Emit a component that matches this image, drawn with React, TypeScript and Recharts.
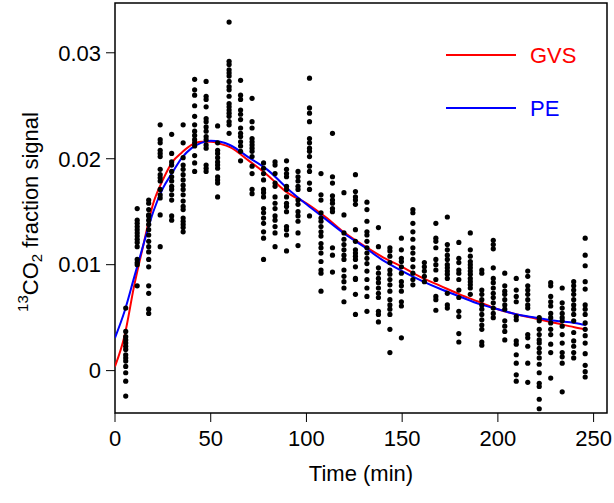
import {
  ComposedChart,
  Legend,
  Line,
  ReferenceArea,
  Scatter,
  XAxis,
  YAxis,
} from "recharts";

// sampling times (min) of the breath measurements
const sampleTimes = [
  5.6, 11.6, 17.6, 23.6, 29.6, 35.6, 41.6, 47.6, 53.6, 59.6, 65.6, 71.6, 77.6,
  83.6, 89.6, 95.6, 101.6, 107.6, 113.6, 119.6, 125.6, 131.6, 137.6, 143.6,
  149.6, 155.6, 161.6, 167.6, 173.6, 179.6, 185.6, 191.6, 197.6, 203.6, 209.6,
  215.6, 221.6, 227.6, 233.6, 239.6, 245.6,
];

// observed 13CO2 fraction signals, one list per sampling time
const observedSignals: number[][] = [
  [0.0059, 0.0037, 0.0032, 0.0029, 0.0026, 0.0023, 0.002, 0.0015, 0.0012, 0.0009, 0.0004, -0.0002, -0.001, -0.0024],
  [0.0153, 0.0142, 0.0139, 0.0136, 0.0133, 0.013, 0.0127, 0.0124, 0.0121, 0.0117, 0.0105, 0.0102, 0.01, 0.008],
  [0.0161, 0.0158, 0.0152, 0.0147, 0.0146, 0.0142, 0.0138, 0.0133, 0.0128, 0.0122, 0.0117, 0.0112, 0.0105, 0.0098, 0.008, 0.0073, 0.0058, 0.0054],
  [0.0232, 0.0218, 0.0215, 0.0208, 0.0205, 0.0202, 0.019, 0.0185, 0.0182, 0.0179, 0.0171, 0.0166, 0.0163, 0.0147, 0.0117],
  [0.0223, 0.0205, 0.0197, 0.0194, 0.0188, 0.0183, 0.0179, 0.0174, 0.0171, 0.0166, 0.0161, 0.0146, 0.0142],
  [0.0232, 0.0215, 0.0201, 0.0194, 0.019, 0.0185, 0.018, 0.0175, 0.0171, 0.0166, 0.016, 0.0155, 0.0152, 0.0144, 0.0141, 0.0138, 0.0135, 0.0131],
  [0.0275, 0.0265, 0.026, 0.025, 0.024, 0.0232, 0.0226, 0.0222, 0.0218, 0.0215, 0.0212, 0.0203, 0.0196, 0.0188],
  [0.0273, 0.0259, 0.0256, 0.0249, 0.0238, 0.0235, 0.023, 0.0226, 0.0221, 0.0218, 0.0213, 0.021, 0.0194, 0.0191, 0.0188],
  [0.0231, 0.0215, 0.0208, 0.0205, 0.0201, 0.0197, 0.0194, 0.0191, 0.0183, 0.018, 0.0177, 0.0164],
  [0.0329, 0.0292, 0.0289, 0.0284, 0.0281, 0.0278, 0.0273, 0.0268, 0.0265, 0.0259, 0.0252, 0.0249, 0.0246, 0.0243, 0.024, 0.0235, 0.0232, 0.0224],
  [0.0274, 0.026, 0.0256, 0.0246, 0.0242, 0.0237, 0.0229, 0.0224, 0.0221, 0.0216, 0.0212, 0.0207, 0.0198],
  [0.0257, 0.0235, 0.0229, 0.0219, 0.0216, 0.0213, 0.021, 0.0207, 0.0202, 0.0193, 0.0186, 0.0171, 0.0167],
  [0.0196, 0.0191, 0.0186, 0.018, 0.0171, 0.0168, 0.0164, 0.0153, 0.0149, 0.0144, 0.0139, 0.0131, 0.0125, 0.0105],
  [0.0197, 0.0194, 0.0186, 0.0177, 0.0174, 0.0164, 0.0158, 0.0153, 0.0146, 0.0142, 0.0136, 0.013, 0.0117],
  [0.0198, 0.019, 0.0186, 0.0183, 0.0174, 0.0171, 0.0164, 0.0158, 0.0155, 0.015, 0.0136, 0.0133, 0.0128, 0.0113],
  [0.0188, 0.0183, 0.0179, 0.0174, 0.0171, 0.0161, 0.0157, 0.015, 0.0146, 0.0141, 0.013, 0.0118],
  [0.0276, 0.0248, 0.0243, 0.0235, 0.0219, 0.0215, 0.021, 0.0207, 0.0202, 0.0193, 0.0188, 0.0177, 0.0171, 0.0146],
  [0.0186, 0.0166, 0.0161, 0.0149, 0.0144, 0.0141, 0.0136, 0.0131, 0.0127, 0.012, 0.0116, 0.0111, 0.0103, 0.0095, 0.0092, 0.0075],
  [0.0224, 0.0183, 0.0177, 0.0165, 0.0161, 0.0158, 0.0153, 0.015, 0.0116, 0.0109, 0.0093],
  [0.0168, 0.0147, 0.013, 0.0124, 0.0119, 0.0114, 0.0109, 0.0105, 0.0095, 0.0089, 0.0084, 0.0078, 0.0065],
  [0.0185, 0.0169, 0.0164, 0.0161, 0.0157, 0.0133, 0.0122, 0.0114, 0.0111, 0.0108, 0.0105, 0.0098, 0.0087, 0.0086, 0.0072, 0.0053],
  [0.0159, 0.0152, 0.0141, 0.0131, 0.0128, 0.0122, 0.0116, 0.0111, 0.0106, 0.0101, 0.0094, 0.0086, 0.0078, 0.007, 0.0056],
  [0.0135, 0.0117, 0.0097, 0.0092, 0.0087, 0.0083, 0.0078, 0.0073, 0.0069, 0.0056, 0.0053, 0.0046],
  [0.0116, 0.0113, 0.0108, 0.0102, 0.0095, 0.0091, 0.0086, 0.0081, 0.0075, 0.0067, 0.0062, 0.0058, 0.0053, 0.0039, 0.0017],
  [0.0125, 0.0114, 0.0106, 0.0103, 0.0098, 0.0092, 0.0084, 0.008, 0.0075, 0.0065, 0.0061, 0.0031],
  [0.0152, 0.0149, 0.0139, 0.0131, 0.0124, 0.0116, 0.0111, 0.0105, 0.0098, 0.0092, 0.0086, 0.0081],
  [0.0102, 0.0098, 0.0094, 0.0089, 0.0084],
  [0.0139, 0.0125, 0.0122, 0.0116, 0.0105, 0.01, 0.0095, 0.0086, 0.007, 0.0067, 0.0057],
  [0.0145, 0.0119, 0.0114, 0.0109, 0.0105, 0.01, 0.0097, 0.0094, 0.0091, 0.0087, 0.0073, 0.0062, 0.0059],
  [0.0121, 0.0106, 0.0102, 0.0095, 0.0092, 0.0086, 0.0076, 0.0069, 0.0056, 0.0051, 0.0035, 0.0027],
  [0.013, 0.0114, 0.0108, 0.0103, 0.01, 0.0097, 0.0094, 0.0091, 0.0087, 0.0084, 0.0081, 0.0078, 0.0072],
  [0.0095, 0.0092, 0.0076, 0.0072, 0.0067, 0.0062, 0.0058, 0.0053, 0.0048, 0.0043, 0.0039, 0.0027, 0.0024],
  [0.0123, 0.0119, 0.0115, 0.0097, 0.0087, 0.0083, 0.0078, 0.0073, 0.0069, 0.0064, 0.0059, 0.0054, 0.005],
  [0.0092, 0.008, 0.0075, 0.0072, 0.0067, 0.0062, 0.0058, 0.0047, 0.0042, 0.0037, 0.0029],
  [0.0087, 0.0076, 0.007, 0.0065, 0.0051, 0.0048, 0.0028, 0.0025, 0.0015, 0.0007, -0.0004, -0.001],
  [0.0094, 0.0089, 0.008, 0.0076, 0.0072, 0.0067, 0.0062, 0.0059, 0.0034, 0.0031, 0.0023, 0.0007, -0.0011],
  [0.005, 0.0047, 0.0039, 0.0034, 0.0029, 0.0026, 0.0021, 0.0017, 0.0012, 0.0006, -0.0002, -0.0012, -0.0015, -0.0027, -0.0036],
  [0.0083, 0.008, 0.007, 0.0065, 0.0061, 0.0054, 0.005, 0.0045, 0.0039, 0.0034, 0.0025, 0.0017, -0.0007],
  [0.0078, 0.0064, 0.0059, 0.0054, 0.005, 0.0047, 0.0042, 0.0034, 0.0026, 0.0017, 0.0013, 0.0007, -0.002],
  [0.0084, 0.008, 0.0076, 0.0072, 0.0067, 0.0062, 0.0058, 0.0053, 0.0047, 0.0036, 0.0028, 0.0023, 0.0017, 0.0012],
  [0.0125, 0.0109, 0.0099, 0.0084, 0.0077, 0.0062, 0.0058, 0.0053, 0.0045, 0.0039, 0.0033, 0.0026, 0.0016, 0.0005, -0.0001, -0.0006],
];

// fitted curves
const curveTimes = [
  0, 5, 10, 15, 20, 25, 30, 35, 40, 45, 50, 55, 60, 70, 80, 90, 100, 110, 120,
  130, 140, 150, 160, 170, 180, 190, 200, 210, 220, 230, 240, 246,
];
const gvsFit = [
  0.0004, 0.0033, 0.008, 0.012, 0.0158, 0.018, 0.0197, 0.0206, 0.0213, 0.0216,
  0.0216, 0.0214, 0.0211, 0.0198, 0.0184, 0.0168, 0.0158, 0.0145, 0.013,
  0.0118, 0.0107, 0.0098, 0.0088, 0.008, 0.0072, 0.0065, 0.0058, 0.0053,
  0.0049, 0.0045, 0.0041, 0.0039,
];
const peFit = [
  0.0031, 0.0056, 0.0088, 0.012, 0.015, 0.0172, 0.0187, 0.0201, 0.021, 0.0215,
  0.0217, 0.0216, 0.0213, 0.0201, 0.0189, 0.0172, 0.0157, 0.0143, 0.0129,
  0.0117, 0.0104, 0.0094, 0.0085, 0.0077, 0.007, 0.0063, 0.0058, 0.0053, 0.005,
  0.0047, 0.0045, 0.0043,
];

const xTicks = [0, 50, 100, 150, 200, 250];
const yTicks = [0, 0.01, 0.02, 0.03];
const xDomain: [number, number] = [0, 257];
const yDomain: [number, number] = [-0.004, 0.0347];

const points = sampleTimes.flatMap((t, i) =>
  observedSignals[i].map((v) => ({ t, v })),
);
const gvsData = curveTimes.map((t, i) => ({ t, v: gvsFit[i] }));
const peData = curveTimes.map((t, i) => ({ t, v: peFit[i] }));

const font = "'Liberation Sans', Arial, Helvetica, sans-serif";
const tickStyle = { fill: "#000", fontSize: 22, fontFamily: font };

function Dot(props: any) {
  return <circle cx={props.cx} cy={props.cy} r={2.6} fill="#000" />;
}

function YTitle() {
  return (
    <text
      transform="translate(30, 212) rotate(-90)"
      textAnchor="middle"
      dominantBaseline="central"
      fontFamily={font}
      fontSize={22}
      fill="#000"
    >
      <tspan fontSize={15} dy={-8}>
        13
      </tspan>
      <tspan dy={8}>CO</tspan>
      <tspan fontSize={15} dy={6}>
        2
      </tspan>
      <tspan dy={-6}> fraction signal</tspan>
    </text>
  );
}

function FitLegend() {
  const items = [
    { name: "GVS", color: "#ff0000", y: 20 },
    { name: "PE", color: "#0000ff", y: 73 },
  ];
  return (
    <svg width={160} height={100}>
      {items.map((item) => (
        <g key={item.name}>
          <line x1={6} x2={76} y1={item.y} y2={item.y} stroke={item.color} strokeWidth={2} />
          <text
            x={90}
            y={item.y}
            dominantBaseline="central"
            fill={item.color}
            fontSize={22}
            fontFamily={font}
          >
            {item.name}
          </text>
        </g>
      ))}
    </svg>
  );
}

export default function App() {
  return (
    <div style={{ position: "absolute", left: 0, top: 0, background: "#fff" }}>
      <ComposedChart
        width={614}
        height={503}
        margin={{ top: 3, right: 7, bottom: 0, left: 0 }}
      >
        <XAxis
          type="number"
          dataKey="t"
          domain={xDomain}
          ticks={xTicks}
          allowDataOverflow
          axisLine={false}
          tickLine={{ stroke: "#000" }}
          tickSize={9}
          tickMargin={8}
          tick={tickStyle}
          height={90}
          label={{
            value: "Time (min)",
            position: "insideBottom",
            offset: 22,
            fill: "#000",
            fontSize: 22,
            fontFamily: font,
          }}
        />
        <YAxis
          type="number"
          dataKey="v"
          domain={yDomain}
          ticks={yTicks}
          allowDataOverflow
          axisLine={false}
          tickLine={{ stroke: "#000" }}
          tickSize={9}
          tickMargin={5}
          tick={tickStyle}
          tickFormatter={(v) => (v === 0 ? "0" : String(v))}
          width={115}
          label={<YTitle />}
        />
        <ReferenceArea
          x1={xDomain[0]}
          x2={xDomain[1]}
          y1={yDomain[0]}
          y2={yDomain[1]}
          fill="none"
          stroke="#000"
          strokeWidth={1.5}
          ifOverflow="visible"
        />
        <Scatter
          data={points}
          dataKey="v"
          shape={<Dot />}
          isAnimationActive={false}
        />
        <Line
          data={gvsData}
          dataKey="v"
          type="monotone"
          stroke="#ff0000"
          strokeWidth={2}
          dot={false}
          isAnimationActive={false}
        />
        <Line
          data={peData}
          dataKey="v"
          type="monotone"
          stroke="#0000ff"
          strokeWidth={2}
          dot={false}
          isAnimationActive={false}
        />
        <Legend
          layout="vertical"
          align="center"
          verticalAlign="middle"
          content={<FitLegend />}
          wrapperStyle={{ left: 440, top: 35, width: 160, height: 100 }}
        />
      </ComposedChart>
    </div>
  );
}
